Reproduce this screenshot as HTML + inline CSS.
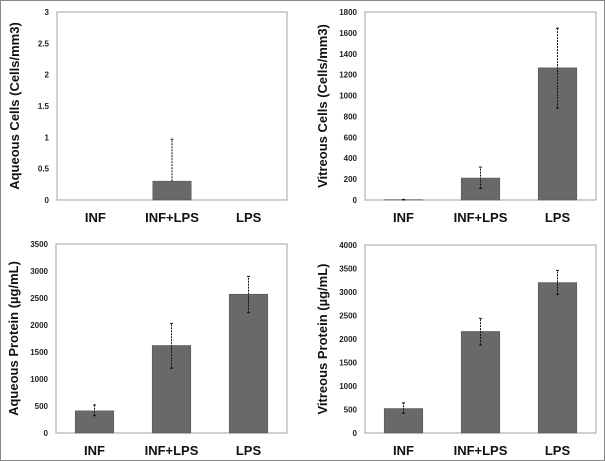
<!DOCTYPE html>
<html><head><meta charset="utf-8"><style>
body{margin:0;background:#fff}
svg{display:block;font-family:"Liberation Sans",Arial,sans-serif}
</style></head><body>
<svg id="c" width="605" height="461">
<rect x="0.5" y="0.5" width="604" height="460" fill="#fff" stroke="#888"/>
</svg>
<script>
const categories=["INF","INF+LPS","LPS"];
const aqCells=[0,0.3,0];
const aqCellsLo=[0,0.3,0];
const aqCellsHi=[0,0.97,0];
const aqCellsTicks=["0","0.5","1","1.5","2","2.5","3"];
const vitCells=[3,210,1265];
const vitCellsLo=[0,110,880];
const vitCellsHi=[6,315,1645];
const vitCellsTicks=["0","200","400","600","800","1000","1200","1400","1600","1800"];
const aqProt=[410,1620,2570];
const aqProtLo=[320,1200,2230];
const aqProtHi=[520,2030,2900];
const aqProtTicks=["0","500","1000","1500","2000","2500","3000","3500"];
const vitProt=[520,2160,3200];
const vitProtLo=[420,1870,2950];
const vitProtHi=[640,2440,3460];
const vitProtTicks=["0","500","1000","1500","2000","2500","3000","3500","4000"];

const svg=document.getElementById('c');
const NS="http://www.w3.org/2000/svg";
function mk(t,a,p){const e=document.createElementNS(NS,t);for(const k in a)e.setAttribute(k,a[k]);(p||svg).appendChild(e);return e;}

function panel(id,L,R,T,B,vals,lo,hi,ticks,title){
  const g=mk('g',{});
  
  
  const max=parseFloat(ticks[ticks.length-1]);
  const y=v=>B-(v/max)*(B-T);
  const cw=(R-L)/categories.length;
  const x=i=>L+cw*(i+0.5);
  const frame=mk('rect',{x:L,y:T,width:R-L,height:B-T,fill:'none',stroke:'#a0a0a0','stroke-width':1},g);
  
  
  ticks.forEach(t=>{
    const tx=mk('text',{x:L-8,y:y(parseFloat(t))+3,'text-anchor':'end','font-size':'8','font-weight':'bold',fill:'#222'},g);
    tx.textContent=t;
    
    
  });
  const yt=mk('text',{x:0,y:0,transform:`translate(${L-38},${(T+B)/2}) rotate(-90)`,'text-anchor':'middle','font-size':'13','font-weight':'bold',fill:'#111'},g);
  yt.textContent=title;
  
  
  categories.forEach((c,i)=>{
    const bw=cw*0.5;
    const b=mk('rect',{x:x(i)-bw/2,y:y(vals[i]),width:bw,height:B-y(vals[i]),fill:'#696969',stroke:'#555','stroke-width':0.6},g);
    
    
    if(hi[i]>vals[i]){
      const eg=mk('g',{stroke:'#111','stroke-width':1},g);
      
      
      mk('line',{x1:x(i),x2:x(i),y1:y(lo[i]),y2:y(hi[i]),'stroke-dasharray':'2,1'},eg);
      mk('line',{x1:x(i)-1.5,x2:x(i)+1.5,y1:y(hi[i]),y2:y(hi[i])},eg);
      if(lo[i]<vals[i]) mk('line',{x1:x(i)-1.5,x2:x(i)+1.5,y1:y(lo[i]),y2:y(lo[i])},eg);
    }
    const ct=mk('text',{x:x(i),y:B+22,'text-anchor':'middle','font-size':'13','font-weight':'bold',fill:'#111'},g);
    ct.textContent=c;
    
    
  });
}
panel('aqueous-cells',57,287,12,200,aqCells,aqCellsLo,aqCellsHi,aqCellsTicks,'Aqueous Cells (Cells/mm3)');
panel('vitreous-cells',365,596,12,200,vitCells,vitCellsLo,vitCellsHi,vitCellsTicks,'Vitreous Cells (Cells/mm3)');
panel('aqueous-protein',56,287,244,433,aqProt,aqProtLo,aqProtHi,aqProtTicks,'Aqueous Protein (µg/mL)');
panel('vitreous-protein',365,596,245,433,vitProt,vitProtLo,vitProtHi,vitProtTicks,'Vitreous Protein (µg/mL)');
</script>
</body></html>
